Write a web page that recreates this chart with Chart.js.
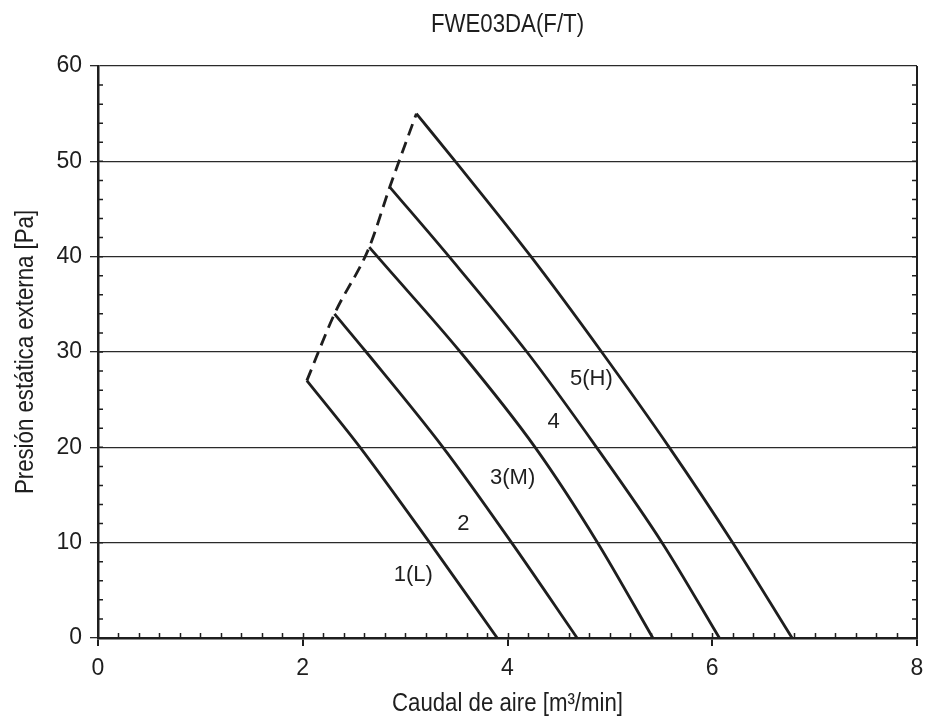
<!DOCTYPE html>
<html>
<head>
<meta charset="utf-8">
<script src="https://cdn.jsdelivr.net/npm/chart.js@4"></script>
<style>
  html, body { margin: 0; padding: 0; background: #fff; }
  #wrap { width: 925px; height: 725px; }
</style>
</head>
<body>
<div id="wrap"><canvas id="myChart"></canvas></div>
<script>
// fan curves: x = air flow [m3/min], y = pressure [Pa]
const curve1X = [2.04, 2.56, 3.24, 3.90];
const curve1Y = [27, 20, 10, 0];
const curve2X = [2.31, 2.62, 3.37, 4.04, 4.68];
const curve2Y = [34, 30, 20, 10, 0];
const curve3X = [2.65, 2.73, 3.54, 4.27, 4.88, 5.42];
const curve3Y = [41, 40, 30, 20, 10, 0];
const curve4X = [2.85, 3.43, 4.19, 4.87, 5.51, 6.07];
const curve4Y = [47.3, 40, 30, 20, 10, 0];
const curve5X = [3.11, 3.49, 4.23, 4.92, 5.58, 6.20, 6.78];
const curve5Y = [55, 50, 40, 30, 20, 10, 0];
// dashed limit line through the start of every curve
const limitX = [2.04, 2.31, 2.65, 2.85, 3.11];
const limitY = [27, 34, 41, 47.3, 55];

const curveNames = ['1(L)', '2', '3(M)', '4', '5(H)'];
const nameX = [3.08, 3.57, 4.05, 4.45, 4.82];
const nameY = [6.6, 12.0, 16.75, 22.7, 27.2];

const chartTitle = 'FWE03DA(F/T)';
const xTitle = 'Caudal de aire [m\u00B3/min]';
const yTitle = 'Presión estática externa [Pa]';

function pts(xs, ys) {
  return xs.map((x, i) => ({x: x, y: ys[i]}));
}

const FONT = "'Liberation Sans', Arial, sans-serif";
const INK = '#1e1e1e';
// the titles are set in a narrow face: squeeze the regular one
const SQUEEZE = 0.855;

const curveSets = [
  [curve1X, curve1Y], [curve2X, curve2Y], [curve3X, curve3Y],
  [curve4X, curve4Y], [curve5X, curve5Y]
].map(c => ({
  data: pts(c[0], c[1]),
  borderColor: INK,
  borderWidth: 2.8,
  pointRadius: 0,
  showLine: true,
  cubicInterpolationMode: 'monotone',
  fill: false
}));

curveSets.push({
  data: pts(limitX, limitY),
  borderColor: INK,
  borderWidth: 2.8,
  borderDash: [12, 7],
  pointRadius: 0,
  showLine: true,
  cubicInterpolationMode: 'monotone',
  fill: false
});

function narrowText(ctx, text, x, y, rot) {
  ctx.save();
  ctx.translate(x, y);
  if (rot) ctx.rotate(rot);
  ctx.scale(SQUEEZE, 1);
  ctx.fillText(text, 0, 0);
  ctx.restore();
}

// minor ticks, right border, titles and curve names
const extras = {
  id: 'extras',
  afterDatasetsDraw(chart) {
    const ctx = chart.ctx;
    const xs = chart.scales.x, ys = chart.scales.y;
    const a = chart.chartArea;
    ctx.save();
    ctx.strokeStyle = INK;
    ctx.lineWidth = 1.5;
    ctx.beginPath();
    for (let v = 0.2; v < 7.99; v += 0.2) {
      const px = Math.round(xs.getPixelForValue(v)) + 0.5;
      ctx.moveTo(px, a.bottom);
      ctx.lineTo(px, a.bottom - 5);
    }
    for (let v = 2; v < 60; v += 2) {
      const py = ys.getPixelForValue(v);
      ctx.moveTo(a.left, py);
      ctx.lineTo(a.left + 5, py);
      ctx.moveTo(a.right, py);
      ctx.lineTo(a.right - 5, py);
    }
    ctx.stroke();
    ctx.lineWidth = 2;
    ctx.beginPath();
    ctx.moveTo(a.right, a.top);
    ctx.lineTo(a.right, a.bottom);
    ctx.stroke();

    ctx.fillStyle = INK;
    ctx.textAlign = 'center';
    ctx.textBaseline = 'alphabetic';
    ctx.font = '26px ' + FONT;
    const cx = (a.left + a.right) / 2;
    const cy = (a.top + a.bottom) / 2;
    narrowText(ctx, chartTitle, cx, 32, 0);
    narrowText(ctx, xTitle, cx, 711, 0);
    narrowText(ctx, yTitle, 33, cy, -Math.PI / 2);

    ctx.font = '22px ' + FONT;
    ctx.textBaseline = 'middle';
    curveNames.forEach((t, i) => {
      ctx.fillText(t, xs.getPixelForValue(nameX[i]), ys.getPixelForValue(nameY[i]));
    });
    ctx.restore();
  }
};

new Chart('myChart', {
  type: 'scatter',
  data: { datasets: curveSets },
  options: {
    responsive: true,
    maintainAspectRatio: false,
    animation: false,
    layout: { padding: { left: 0, right: 8, top: 66, bottom: 0 } },
    plugins: {
      legend: { display: false },
      tooltip: { enabled: false },
      title: { display: false }
    },
    scales: {
      x: {
        type: 'linear',
        min: 0, max: 8,
        afterFit(s) { s.height = 87; s.paddingRight = 0; },
        ticks: { stepSize: 2, color: INK, padding: 9, font: { family: FONT, size: 23 } },
        grid: { drawOnChartArea: false, color: INK, lineWidth: 2, tickLength: 8 },
        border: { color: INK, width: 2.5 }
      },
      y: {
        min: 0, max: 60,
        afterFit(s) { s.width = 98; s.paddingTop = 0; },
        ticks: { stepSize: 10, color: INK, padding: 8, font: { family: FONT, size: 23 } },
        grid: { color: '#2a2a2a', lineWidth: 1.3, tickLength: 8 },
        border: { color: INK, width: 2.5 }
      }
    }
  },
  plugins: [extras]
});
</script>
</body>
</html>
